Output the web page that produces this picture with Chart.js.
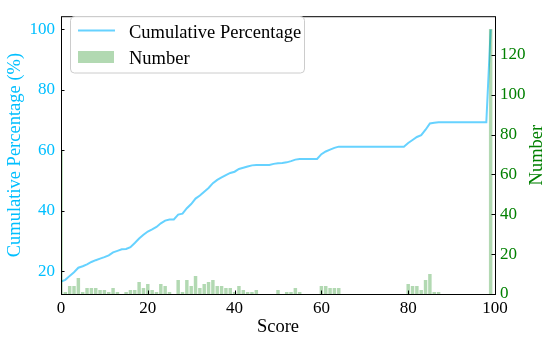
<!DOCTYPE html>
<html>
<head>
<meta charset="utf-8">
<script src="https://cdn.jsdelivr.net/npm/chart.js@4.4.0/dist/chart.umd.min.js"></script>
<style>
  html, body { margin: 0; padding: 0; background: #fff; }
  #wrap { width: 550px; height: 342px; }
</style>
</head>
<body>
<div id="wrap"><canvas id="scoreChart" width="550" height="342"></canvas></div>
<script>
// === Data ===
const SCORES = [
  0, 1, 2, 3, 4, 5, 6, 7, 8, 9, 10, 11, 12, 13, 14, 15, 16, 17, 18, 19,
  20, 21, 22, 23, 24, 25, 26, 27, 28, 29, 30, 31, 32, 33, 34, 35, 36, 37, 38, 39,
  40, 41, 42, 43, 44, 45, 46, 47, 48, 49, 50, 51, 52, 53, 54, 55, 56, 57, 58, 59,
  60, 61, 62, 63, 64, 65, 66, 67, 68, 69, 70, 71, 72, 73, 74, 75, 76, 77, 78, 79,
  80, 81, 82, 83, 84, 85, 86, 87, 88, 89, 90, 91, 92, 93, 94, 95, 96, 97, 98, 99
];
const COUNTS = [
  72, 1, 4, 4, 8, 1, 3, 3, 3, 2, 2, 1, 3, 1, 0, 1, 2, 2, 6, 3,
  5, 2, 1, 5, 4, 1, 0, 7, 1, 7, 4, 9, 3, 5, 6, 7, 4, 4, 3, 3,
  1, 4, 2, 1, 1, 2, 0, 0, 0, 0, 2, 0, 1, 1, 3, 1, 0, 0, 0, 0,
  4, 4, 3, 3, 3, 0, 0, 0, 0, 0, 0, 0, 0, 0, 0, 0, 0, 0, 0, 0,
  5, 4, 4, 2, 7, 10, 1, 1, 0, 0, 0, 0, 0, 0, 0, 0, 0, 0, 0, 133
];
const CUMULATIVE = [
  16.5, 17.1, 18.4, 19.6, 21.1, 21.6, 22.2, 23.0, 23.6, 24.1,
  24.6, 25.2, 26.2, 26.7, 27.2, 27.3, 27.9, 29.3, 30.8, 32.0,
  33.1, 33.8, 34.6, 35.8, 36.7, 37.1, 37.1, 38.7, 39.0, 40.8,
  42.2, 44.0, 45.0, 46.3, 47.5, 49.1, 50.2, 51.0, 51.8, 52.5,
  52.9, 53.8, 54.2, 54.6, 55.0, 55.1, 55.1, 55.1, 55.1, 55.5,
  55.7, 55.8, 56.0, 56.4, 56.9, 57.1, 57.1, 57.1, 57.1, 57.1,
  58.7, 59.6, 60.2, 60.8, 61.2, 61.2, 61.2, 61.2, 61.2, 61.2,
  61.2, 61.2, 61.2, 61.2, 61.2, 61.2, 61.2, 61.2, 61.2, 61.2,
  62.4, 63.4, 64.4, 65.0, 66.8, 68.9, 69.1, 69.3, 69.3, 69.3,
  69.3, 69.3, 69.3, 69.3, 69.3, 69.3, 69.3, 69.3, 69.3, 100
];
const X_TICKS = [0, 20, 40, 60, 80, 100];
const PCT_TICKS = [20, 40, 60, 80, 100];
const NUM_TICKS = [0, 20, 40, 60, 80, 100, 120];

// === Styles ===
const LINE_COLOR = "#66d2ff";
const BAR_COLOR = "rgba(0, 128, 0, 0.3)";
const PCT_COLOR = "#00bfff";
const NUM_COLOR = "#008000";
const FONT = "'Liberation Serif', 'Times New Roman', serif";
const TICK_FONT = { family: FONT, size: 17 };
const TITLE_FONT = { family: FONT, size: 18.5 };

function fixedTicks(values) {
  return (scale) => {
    scale.ticks = values.map((v) => ({ value: v }));
  };
}

// === Frame + inward tick marks ===
const framePlugin = {
  id: "frame",
  afterDatasetsDraw(chart) {
    const { ctx, chartArea: a, scales } = chart;
    const len = 3.5;
    ctx.save();
    ctx.strokeStyle = "#000";
    ctx.lineWidth = 1;
    ctx.beginPath();
    scales.x.ticks.forEach((t) => {
      const px = Math.round(scales.x.getPixelForValue(t.value)) + 0.5;
      ctx.moveTo(px, a.bottom);
      ctx.lineTo(px, a.bottom - len);
    });
    scales.y.ticks.forEach((t) => {
      const py = Math.round(scales.y.getPixelForValue(t.value)) + 0.5;
      ctx.moveTo(a.left, py);
      ctx.lineTo(a.left + len, py);
    });
    scales.y1.ticks.forEach((t) => {
      const py = Math.round(scales.y1.getPixelForValue(t.value)) + 0.5;
      ctx.moveTo(a.right, py);
      ctx.lineTo(a.right - len, py);
    });
    ctx.stroke();
    ctx.strokeRect(a.left + 0.5, a.top + 0.5, a.right - a.left, a.bottom - a.top);
    ctx.restore();
  },
};

// === Right axis title, reading bottom-to-top like matplotlib ===
const rightTitlePlugin = {
  id: "rightTitle",
  afterDraw(chart) {
    const { ctx, chartArea: a } = chart;
    ctx.save();
    ctx.translate(537, (a.top + a.bottom) / 2);
    ctx.rotate(-Math.PI / 2);
    ctx.fillStyle = NUM_COLOR;
    ctx.font = TITLE_FONT.size + "px " + FONT;
    ctx.textAlign = "center";
    ctx.textBaseline = "middle";
    ctx.fillText("Number", 0, 0);
    ctx.restore();
  },
};

// === Legend box (upper left, inside axes) ===
const legendPlugin = {
  id: "boxLegend",
  afterDraw(chart) {
    const ctx = chart.ctx;
    const sets = chart.data.datasets;
    ctx.save();
    ctx.beginPath();
    ctx.roundRect(70.5, 16.5, 234, 56.5, 4);
    ctx.fillStyle = "rgba(255, 255, 255, 0.8)";
    ctx.fill();
    ctx.strokeStyle = "#cccccc";
    ctx.lineWidth = 1;
    ctx.stroke();

    ctx.strokeStyle = LINE_COLOR;
    ctx.lineWidth = 2;
    ctx.beginPath();
    ctx.moveTo(78, 30.5);
    ctx.lineTo(115, 30.5);
    ctx.stroke();

    ctx.fillStyle = BAR_COLOR;
    ctx.fillRect(78, 51, 36, 12);

    ctx.fillStyle = "#000";
    ctx.font = "18.5px " + FONT;
    ctx.textBaseline = "alphabetic";
    ctx.textAlign = "left";
    ctx.fillText(sets[0].label, 129, 37.5);
    ctx.fillText(sets[1].label, 129, 63.5);
    ctx.restore();
  },
};

// === Chart ===
const ctx = document.getElementById("scoreChart").getContext("2d");
new Chart(ctx, {
  type: "line",
  data: {
    datasets: [
      {
        type: "line",
        label: "Cumulative Percentage",
        data: SCORES.map((s, i) => ({ x: s, y: CUMULATIVE[i] })),
        yAxisID: "y",
        borderColor: LINE_COLOR,
        borderWidth: 2,
        pointRadius: 0,
        tension: 0,
        fill: false,
        order: 1,
      },
      {
        type: "bar",
        label: "Number",
        data: SCORES.map((s, i) => ({ x: s, y: COUNTS[i] })),
        yAxisID: "y1",
        backgroundColor: BAR_COLOR,
        borderWidth: 0,
        categoryPercentage: 1,
        barPercentage: 0.8,
        order: 0,
      },
    ],
  },
  options: {
    responsive: false,
    animation: false,
    devicePixelRatio: 1,
    layout: { padding: { top: 7, left: 0, right: 0, bottom: 0 } },
    plugins: {
      legend: { display: false },
      tooltip: { enabled: false },
    },
    scales: {
      x: {
        type: "linear",
        min: 0,
        max: 100,
        bounds: "data",
        offset: false,
        grid: { display: false, drawTicks: false, offset: false },
        border: { display: false },
        afterBuildTicks: fixedTicks(X_TICKS),
        afterFit: (s) => { s.height = 48; },
        ticks: { color: "#000", font: TICK_FONT, padding: 4, maxRotation: 0 },
        title: {
          display: true,
          text: "Score",
          color: "#000",
          font: TITLE_FONT,
          padding: { top: 0, bottom: 4 },
        },
      },
      y: {
        type: "linear",
        position: "left",
        min: 12.4,
        max: 104.4,
        bounds: "data",
        grid: { display: false, drawTicks: false },
        border: { display: false },
        afterBuildTicks: fixedTicks(PCT_TICKS),
        afterFit: (s) => { s.width = 61; },
        ticks: { color: PCT_COLOR, font: TICK_FONT, padding: 6 },
        title: {
          display: true,
          text: "Cumulative Percentage (%)",
          color: PCT_COLOR,
          font: TITLE_FONT,
          padding: { top: 4, bottom: 0 },
        },
      },
      y1: {
        type: "linear",
        position: "right",
        min: 0,
        max: 139.4,
        bounds: "data",
        grid: { display: false, drawTicks: false },
        border: { display: false },
        afterBuildTicks: fixedTicks(NUM_TICKS),
        afterFit: (s) => { s.width = 55; },
        ticks: { color: NUM_COLOR, font: TICK_FONT, padding: 5 },
        title: { display: false, text: "Number" },
      },
    },
  },
  plugins: [framePlugin, rightTitlePlugin, legendPlugin],
});
</script>
</body>
</html>
